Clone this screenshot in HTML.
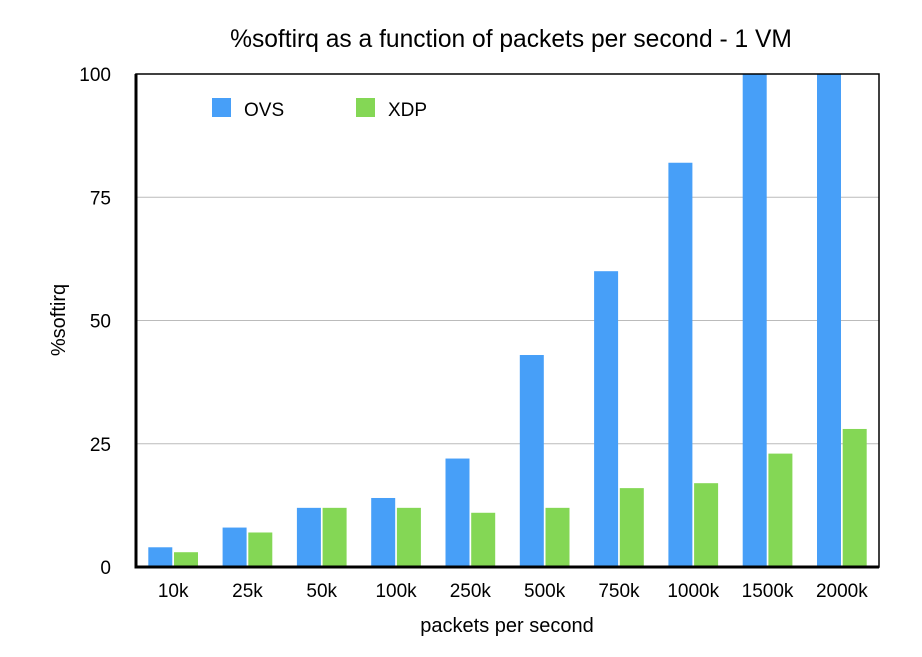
<!DOCTYPE html>
<html><head><meta charset="utf-8"><style>
body{margin:0;background:#fff;font-family:"Liberation Sans",Arial,sans-serif;}
svg text{font-family:"Liberation Sans",Arial,sans-serif;fill:#000;}
</style></head><body>
<svg id="chart" width="922" height="652" xmlns="http://www.w3.org/2000/svg">
<text x="511" y="47" font-size="24.6" text-anchor="middle">%softirq as a function of packets per second - 1 VM</text>
<g id="grid"></g>
<g id="bars"></g>
<g id="axes"></g>
<g>
<rect x="212" y="98" width="19" height="19" fill="#479ff8"/>
<text x="244" y="116" font-size="19">OVS</text>
<rect x="356" y="98" width="19" height="19" fill="#84d755"/>
<text x="388" y="116" font-size="19">XDP</text>
</g>
<text x="507" y="632" font-size="20" text-anchor="middle">packets per second</text>
<text transform="translate(65,320) rotate(-90)" font-size="20" text-anchor="middle">%softirq</text>
</svg>
<script>
const categories=["10k","25k","50k","100k","250k","500k","750k","1000k","1500k","2000k"];
const ovsValues=[4,8,12,14,22,43,60,82,100,100];
const xdpValues=[3,7,12,12,11,12,16,17,23,28];
const yTicks=[0,25,50,75,100];
const NS="http://www.w3.org/2000/svg";
const L=136,R=879,T=74,B=567,yMax=100;
const gw=(R-L)/categories.length;
function y(v){return B-(v/yMax)*(B-T);}
function xg(i){return L+gw*i;}
function mk(tag,attrs,parent){const e=document.createElementNS(NS,tag);for(const k in attrs)e.setAttribute(k,attrs[k]);parent.appendChild(e);return e;}
const grid=document.getElementById('grid'),bars=document.getElementById('bars'),axes=document.getElementById('axes');
yTicks.forEach(t=>{
  if(t>0&&t<yMax){const g=mk('line',{x1:L,x2:R,y1:y(t),y2:y(t),stroke:'#bbb','stroke-width':1},grid);
  
  }
  const tx=mk('text',{x:111,y:y(t)+7,'font-size':19,'text-anchor':'end'},axes);
  tx.textContent=t;
  
  
});
categories.forEach((c,i)=>{
  const b=mk('rect',{x:xg(i)+12.3,y:y(ovsValues[i]),width:24,height:B-y(ovsValues[i]),fill:'#479ff8'},bars);
  
  
  const g=mk('rect',{x:xg(i)+38,y:y(xdpValues[i]),width:24,height:B-y(xdpValues[i]),fill:'#84d755'},bars);
  
  
  const tx=mk('text',{x:xg(i)+gw/2,y:597,'font-size':19,'text-anchor':'middle'},axes);
  tx.textContent=c;
  
  
});
const frame=mk('rect',{x:L,y:T,width:R-L,height:B-T,fill:'none',stroke:'#000','stroke-width':1.5},axes);


const ax=mk('path',{d:`M${L},${T}V${B}H${R}`,fill:'none',stroke:'#000','stroke-width':3},axes);


</script>
</body></html>
